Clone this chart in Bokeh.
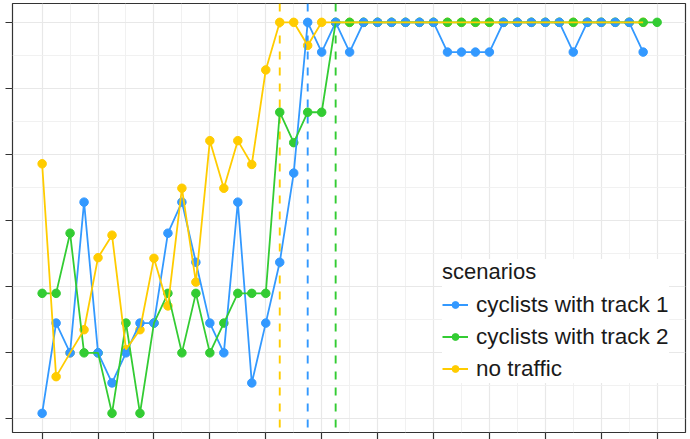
from bokeh.plotting import figure
from bokeh.models import FixedTicker, Span, Legend, LegendItem, Range1d
from bokeh.embed import file_html
from bokeh.resources import INLINE

# ---- data ----
trial = list(range(45))

track1 = [0.085, 1.45, 1.0, 3.28, 1.0, 0.545, 1.0, 1.45, 1.45, 2.81,
          3.28, 2.37, 1.45, 1.0, 3.28, 0.545, 1.45, 2.37, 3.72, 6.0,
          5.55, 6.0, 5.55, 6.0, 6.0, 6.0, 6.0, 6.0, 6.0, 5.55,
          5.55, 5.55, 5.55, 6.0, 6.0, 6.0, 6.0, 6.0, 5.55, 6.0,
          6.0, 6.0, 6.0, 5.55]

track2 = [1.9, 1.9, 2.81, 1.0, 1.0, 0.085, 1.45, 0.085, 1.45, 1.9,
          1.0, 1.9, 1.0, 1.45, 1.9, 1.9, 1.9, 4.64, 4.18, 4.64,
          4.64, 6.0, 6.0, 6.0, 6.0, 6.0, 6.0, 6.0, 6.0, 6.0,
          6.0, 6.0, 6.0, 6.0, 6.0, 6.0, 6.0, 6.0, 6.0, 6.0,
          6.0, 6.0, 6.0, 6.0, 6.0]

no_traffic = [3.86, 0.64, 1.0, 1.35, 2.44, 2.78, 1.05, 1.35, 2.43, 1.71,
              3.49, 2.07, 4.21, 3.49, 4.21, 3.85, 5.28, 6.0, 6.0, 5.65,
              6.0, 6.0, 6.0, 6.0, 6.0, 6.0, 6.0, 6.0, 6.0, 6.0,
              6.0, 6.0, 6.0, 6.0, 6.0, 6.0, 6.0, 6.0, 6.0, 6.0,
              6.0, 6.0, 6.0, 6.0]

series_names = ["cyclists with track 1", "cyclists with track 2", "no traffic"]
series_values = [track1, track2, no_traffic]
series_colors = ["#3399ff", "#33cc33", "#ffcc00"]
threshold_x = [19, 21, 17]

x_ticks = list(range(0, 45, 4))
x_minor = list(range(2, 45, 4))
y_ticks = [0, 1, 2, 3, 4, 5, 6]
y_minor = [0.5, 1.5, 2.5, 3.5, 4.5, 5.5]

p = figure(width=690, height=439, output_backend="svg", toolbar_location=None,
           x_range=Range1d(-2.12, 46.03), y_range=Range1d(-0.205, 6.285),
           min_border_left=12, min_border_right=5, min_border_top=3, min_border_bottom=7)
p.background_fill_color = "white"
p.border_fill_color = "white"
p.outline_line_color = "#333333"
p.outline_line_width = 1.2

p.xaxis.ticker = FixedTicker(ticks=x_ticks, minor_ticks=x_minor)
p.yaxis.ticker = FixedTicker(ticks=y_ticks, minor_ticks=y_minor)
for ax in (p.xaxis, p.yaxis):
    ax.axis_line_color = None
    ax.major_tick_line_color = "#333333"
    ax.major_tick_line_width = 1.2
    ax.major_tick_out = 7
    ax.major_tick_in = 0
    ax.minor_tick_line_color = None
    ax.major_label_standoff = 0
    ax.major_label_text_font_size = "0px"
p.xaxis.major_label_overrides = {t: "" for t in x_ticks}
p.yaxis.major_label_overrides = {t: "" for t in y_ticks}

for g in (p.xgrid, p.ygrid):
    g.grid_line_color = "#e8e8e8"
    g.grid_line_width = 1.2
    g.minor_grid_line_color = "#efefef"
    g.minor_grid_line_width = 0.9

for xv, col in zip(threshold_x, series_colors):
    p.add_layout(Span(location=xv, dimension="height", line_color=col,
                      line_width=1.9, line_dash="8 8", level="underlay"))

# points: yellow, green, blue (blue on top); then lines: blue, green, yellow
for k in (2, 1, 0):
    vals = series_values[k]
    p.scatter(trial[:len(vals)], vals, size=8.5, color=series_colors[k])
for k in (0, 1, 2):
    vals = series_values[k]
    p.line(trial[:len(vals)], vals, line_width=1.8, color=series_colors[k])

# legend keys
items = []
for k in (0, 1, 2):
    kl = p.line([float("nan")], [float("nan")], line_width=2, color=series_colors[k])
    ks = p.scatter([float("nan")], [float("nan")], size=7, color=series_colors[k])
    items.append(LegendItem(label=series_names[k], renderers=[kl, ks]))

legend = Legend(items=items, location=(430, 49), title="scenarios",
                title_text_font="Liberation Sans", title_text_font_size="22px",
                title_text_font_style="normal", title_text_color="#1a1a1a",
                label_text_font="Liberation Sans", label_text_font_size="22.5px",
                label_text_color="#1a1a1a",
                glyph_width=26, glyph_height=17, label_height=29, spacing=3,
                label_standoff=8, padding=9, title_standoff=5,
                border_line_color=None, background_fill_color="white",
                background_fill_alpha=1.0)
p.add_layout(legend, "center")

open("out.html", "w").write(file_html(p, INLINE))
